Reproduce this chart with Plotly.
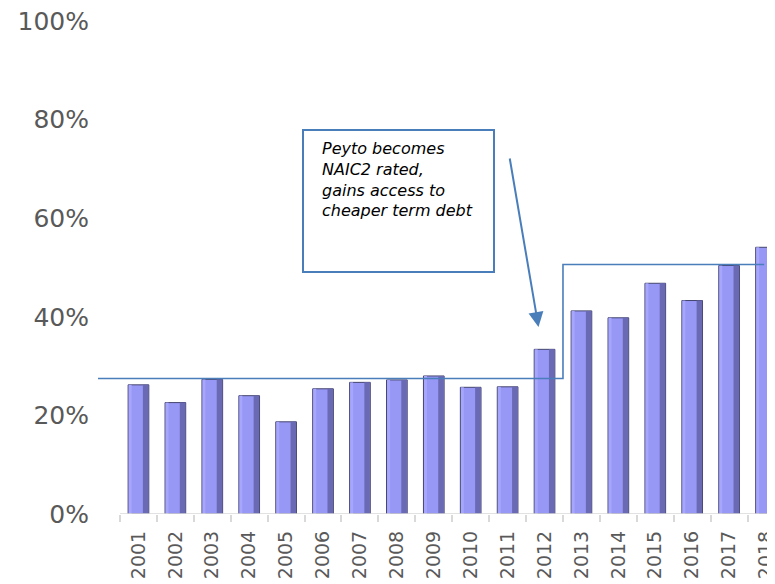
import plotly.graph_objects as go

# ---- data ----
years = list(range(2001, 2019))
year_labels = [str(y) for y in years]
debt_share = [26.2, 22.6, 27.3, 24.0, 18.7, 25.4, 26.7, 27.2, 28.0, 25.7,
              25.8, 33.4, 41.2, 39.8, 46.8, 43.3, 50.4, 54.1]
y_ticks = [0, 20, 40, 60, 80, 100]
y_tick_labels = ["0%", "20%", "40%", "60%", "80%", "100%"]
avg_before = 27.5       # average level before rating
avg_after = 50.6        # average level after rating
rating_boundary = 2012.5
note_text = "Peyto becomes<br>NAIC2 rated,<br>gains access to<br>cheaper term debt"

# ---- layout geometry (page body has an 8px margin) ----
OFF = 8
W, H = 775, 584 - OFF
ML, MR, MT, MB = 98 - OFF, 0, 21 - OFF, 584 - 514
PW, PH = W - ML - MR, H - MT - MB
x_lo, x_hi = 1999.904, 2018.46


def px(xp):
    """window pixel x -> paper fraction"""
    return (xp - OFF - ML) / PW


def py(yp):
    """window pixel y -> paper fraction"""
    return (H - MB - (yp - OFF)) / PH


BLUE = "#4a7ebb"
GRAY = "#595959"
FONT = "DejaVu Sans"

fig = go.Figure()

# main bars
fig.add_trace(go.Bar(
    x=years, y=debt_share, width=0.56,
    marker=dict(color="#9797f6", line=dict(color="#45456e", width=1)),
    showlegend=False, hoverinfo="skip"))
# darker right face (bevel effect)
fig.add_trace(go.Bar(
    x=years, y=debt_share, width=0.15, offset=0.12,
    marker=dict(color="#6a6ab4", line=dict(width=0)),
    showlegend=False, hoverinfo="skip"))
# lighter left face
fig.add_trace(go.Bar(
    x=years, y=debt_share, width=0.08, offset=-0.265,
    marker=dict(color="#a6a6fc", line=dict(width=0)),
    showlegend=False, hoverinfo="skip"))

# step line (average levels)
fig.add_trace(go.Scatter(
    x=[x_lo, rating_boundary, years[-1] - 0.05],
    y=[avg_before, avg_after, avg_after],
    mode="lines", line=dict(color=BLUE, width=1.6, shape="hv"),
    showlegend=False, hoverinfo="skip"))

# baseline axis line starting at first category boundary
fig.add_shape(type="line", xref="x", yref="y", x0=years[0] - 0.5, x1=x_hi,
              y0=0, y1=0, line=dict(color="#d9d9d9", width=1.5), layer="above")

# note box
fig.add_shape(type="rect", xref="paper", yref="paper",
              x0=px(303), x1=px(494), y0=py(272), y1=py(130),
              line=dict(color=BLUE, width=2), fillcolor="rgba(0,0,0,0)")
fig.add_annotation(xref="paper", yref="paper", x=px(320), y=py(137),
                   xanchor="left", yanchor="top", align="left",
                   text="<i>" + note_text + "</i>", showarrow=False,
                   font=dict(family=FONT, size=16, color="black"))
# arrow
fig.add_annotation(xref="paper", yref="paper", x=px(538.5), y=py(327),
                   ax=-29, ay=-170, text="", showarrow=True,
                   arrowhead=2, arrowsize=1.5, arrowwidth=2, arrowcolor=BLUE)

fig.update_layout(
    width=W, height=H, autosize=False,
    margin=dict(l=ML, r=MR, t=MT, b=MB, pad=0, autoexpand=False),
    paper_bgcolor="white", plot_bgcolor="white",
    barmode="overlay", bargap=0.44,
    font=dict(family=FONT, color=GRAY),
    xaxis=dict(range=[x_lo, x_hi], tickmode="array", tickvals=years,
               ticktext=year_labels, tickangle=-90, ticks="",
               tickfont=dict(size=19, color=GRAY), showgrid=False,
               zeroline=False, showline=False, ticklabelstandoff=12,
               automargin=False, ticklabeloverflow="allow",
               minor=dict(ticks="outside", tick0=2000.5, dtick=1, ticklen=7,
                          tickcolor="#d9d9d9", tickwidth=1.5, showgrid=False)),
    yaxis=dict(range=[0, 100], tickmode="array", tickvals=y_ticks,
               ticktext=y_tick_labels, ticks="", showgrid=False,
               zeroline=False, showline=False, automargin=False,
               ticklabeloverflow="allow",
               tickfont=dict(size=25, color=GRAY), ticklabelstandoff=8),
)

fig.write_html("out.html")
